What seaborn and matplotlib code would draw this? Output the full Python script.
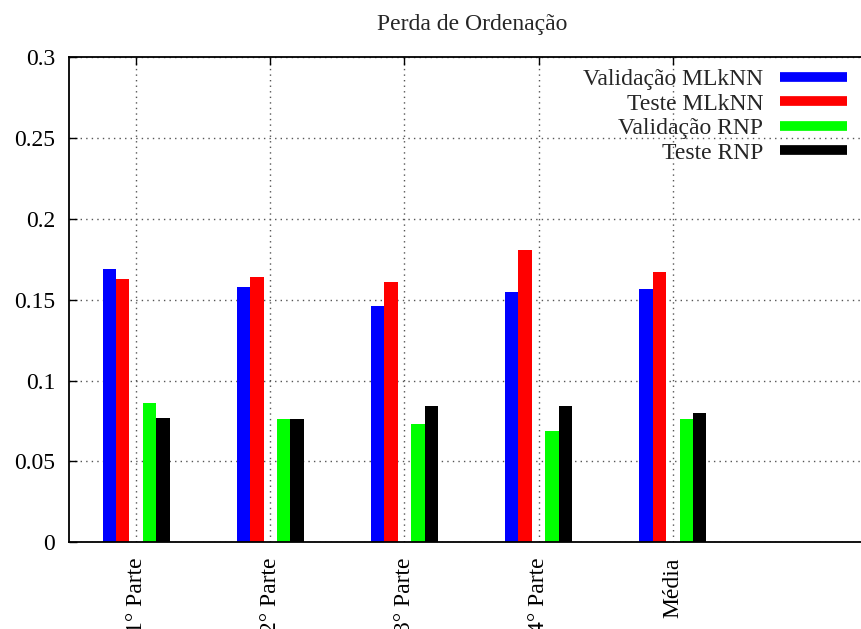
import pandas as pd
import seaborn as sns
import matplotlib.pyplot as plt
from matplotlib.lines import Line2D

# valores
partes = ["1° Parte", "2° Parte", "3° Parte", "4° Parte", "Média"]
val_mlknn = [0.169, 0.158, 0.146, 0.155, 0.157]
teste_mlknn = [0.163, 0.164, 0.161, 0.181, 0.167]
val_rnp = [0.086, 0.0765, 0.073, 0.069, 0.076]
teste_rnp = [0.077, 0.0765, 0.084, 0.084, 0.080]

series = ["Validação MLkNN", "Teste MLkNN", "Validação RNP", "Teste RNP"]
cores = ["#0000ff", "#ff0000", "#00ff00", "#000000"]

linhas = []
for nome, vals in zip(series, [val_mlknn, teste_mlknn, val_rnp, teste_rnp]):
    for p, v in zip(partes, vals):
        linhas.append({"parte": p, "serie": nome, "valor": v})
df = pd.DataFrame(linhas)

# nivel vazio no meio para deixar o espaco entre MLkNN e RNP
ordem = series[:2] + [" "] + series[2:]
paleta = dict(zip(series, cores))
paleta[" "] = "#ffffff"

sns.set_style("white")
plt.rcParams["font.family"] = ["Liberation Serif", "DejaVu Serif"]

fig = plt.figure(figsize=(8.62, 6.29), dpi=100)
ax = fig.add_axes([0.080, 0.138, 0.920, 0.7706])

sns.barplot(data=df, x="parte", y="valor", hue="serie", hue_order=ordem,
            palette=paleta, width=0.5, gap=0, saturation=1, legend=False,
            linewidth=0, ax=ax)

ax.set_xlim(-0.5, 5.41)
ax.set_ylim(0, 0.3)
ax.set_yticks([0, 0.05, 0.1, 0.15, 0.2, 0.25, 0.3])
ax.set_yticklabels(["0", "0.05", "0.1", "0.15", "0.2", "0.25", "0.3"])
ax.set_xlabel("")
ax.set_ylabel("")
plt.setp(ax.get_xticklabels(), rotation=90)
ax.tick_params(axis="both", labelsize=17, direction="in", length=6, width=1, colors="black")
ax.tick_params(axis="x", pad=11, top=True)
ax.tick_params(axis="y", pad=10, left=True)
ax.grid(True, color="#555555", linestyle=(0, (1, 3)), linewidth=1)
ax.set_axisbelow(True)
for lado in ["left", "bottom", "top"]:
    ax.spines[lado].set_visible(True)
    ax.spines[lado].set_color("black")
    ax.spines[lado].set_linewidth(1.3)
ax.spines["right"].set_visible(False)

handles = [Line2D([0], [0], color=c, lw=7, solid_capstyle="butt") for c in cores]
ax.legend(handles, series, loc="upper right", bbox_to_anchor=(0.993, 0.997),
          frameon=False, markerfirst=False, fontsize=17, handlelength=2.85,
          handletextpad=0.7, labelspacing=0.13, borderaxespad=0)

fig.text(472 / 862, 1 - 30 / 629, "Perda de Ordenação", ha="center",
         va="baseline", fontsize=17)

fig.savefig("out.png", dpi=100)
